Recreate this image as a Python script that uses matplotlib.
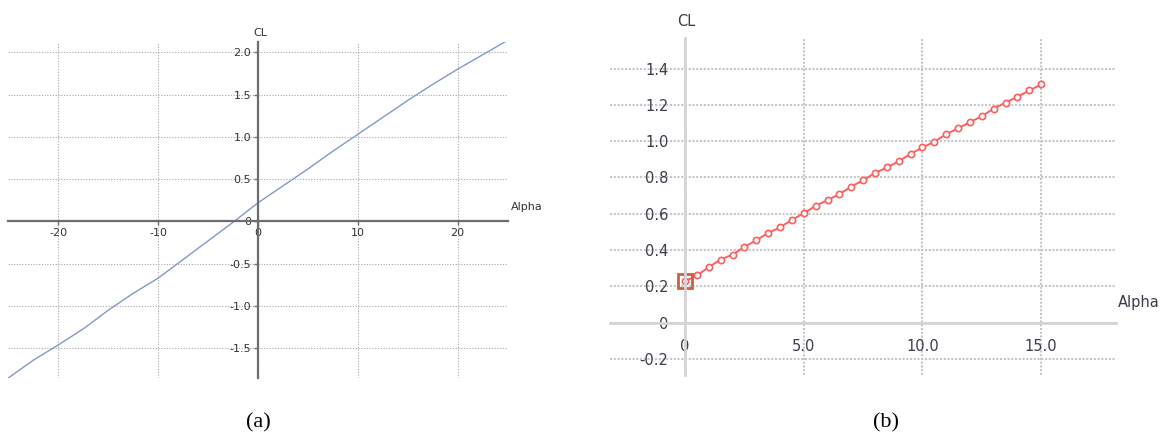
import matplotlib
matplotlib.use("Agg")
import matplotlib.pyplot as plt

# panel (a): CL vs alpha over the full range
alpha_a = [-25, -22.5, -20, -17.5, -15, -12.5, -10, -7.5, -5, -2.5, 0,
           2.5, 5, 7.5, 10, 12.5, 15, 17.5, 20, 22.5, 25]
cl_a = [-1.85, -1.64, -1.46, -1.27, -1.05, -0.85, -0.67, -0.45, -0.23, -0.01, 0.22,
        0.42, 0.62, 0.83, 1.03, 1.23, 1.43, 1.62, 1.80, 1.97, 2.14]
xticks_a = [-20, -10, 0, 10, 20]
xlabels_a = ["-20", "-10", "0", "10", "20"]
yticks_a = [-1.5, -1.0, -0.5, 0, 0.5, 1.0, 1.5, 2.0]
ylabels_a = ["-1.5", "-1.0", "-0.5", "0", "0.5", "1.0", "1.5", "2.0"]

# panel (b): CL vs alpha, 0..15 deg in 0.5 steps
alpha_b = [0, 0.5, 1.0, 1.5, 2.0, 2.5, 3.0, 3.5, 4.0, 4.5, 5.0, 5.5, 6.0, 6.5, 7.0, 7.5,
           8.0, 8.5, 9.0, 9.5, 10.0, 10.5, 11.0, 11.5, 12.0, 12.5, 13.0, 13.5, 14.0, 14.5, 15.0]
cl_b = [0.229, 0.26, 0.306, 0.348, 0.375, 0.417, 0.454, 0.494, 0.525, 0.567, 0.602,
        0.644, 0.675, 0.708, 0.749, 0.785, 0.824, 0.855, 0.889, 0.930, 0.965,
        0.997, 1.038, 1.071, 1.104, 1.138, 1.179, 1.212, 1.245, 1.279, 1.312]
xticks_b = [0, 5, 10, 15]
xlabels_b = ["0", "5.0", "10.0", "15.0"]
yticks_b = [-0.2, 0, 0.2, 0.4, 0.6, 0.8, 1.0, 1.2, 1.4]
ylabels_b = ["-0.2", "0", "0.2", "0.4", "0.6", "0.8", "1.0", "1.2", "1.4"]

W, H = 1166, 437
fig = plt.figure(figsize=(W / 100, H / 100), dpi=100)


def px_axes(x0, y0, x1, y1):
    return fig.add_axes([x0 / W, 1 - y1 / H, (x1 - x0) / W, (y1 - y0) / H])


def px_text(x, y, s, **kw):
    fig.text(x / W, 1 - y / H, s, **kw)


# ---- (a)
ax = px_axes(8.3, 41.7, 507.5, 378)
ax.plot(alpha_a, cl_a, color="#8596cf", lw=1.0)
ax.set_xlim(-25.0, 25.0)
ax.set_ylim(-1.85, 2.125)
for s in ["top", "right"]:
    ax.spines[s].set_visible(False)
for s in ["left", "bottom"]:
    ax.spines[s].set_position(("data", 0))
    ax.spines[s].set_color("#6e6e6e")
    ax.spines[s].set_linewidth(1.6)
ax.set_xticks(xticks_a)
ax.set_xticklabels(xlabels_a)
ax.set_yticks(yticks_a)
ax.set_yticklabels(ylabels_a)
ax.tick_params(axis="both", labelsize=8, colors="#6e6e6e", labelcolor="#333333",
               length=3, width=1, pad=2)
ax.tick_params(axis="x", pad=2)
ax.grid(True, color="#a8a8a8", ls=(0, (1, 1.5)), lw=0.8)
ax.set_axisbelow(True)
ax.patch.set_alpha(0)
px_text(260, 33, "CL", fontsize=8, color="#333333", ha="center", va="center")
px_text(527, 207, "Alpha", fontsize=8, color="#333333", ha="center", va="center")

# ---- (b)
bx = px_axes(610, 38, 1116, 375)
bx.plot(alpha_b, cl_b, color="#ff5e5e", lw=1.4, marker="o", ms=4.5,
        mfc="white", mec="#ff5e5e", mew=1.2)
bx.plot(alpha_b[0], cl_b[0], ls="none", marker="s", ms=10, mfc="none",
        mec="#c8643f", mew=2)
bx.set_xlim(-3.16, 18.15)
bx.set_ylim(-0.288, 1.568)
for s in ["top", "right"]:
    bx.spines[s].set_visible(False)
for s in ["left", "bottom"]:
    bx.spines[s].set_position(("data", 0))
    bx.spines[s].set_color("#d4d4d4")
    bx.spines[s].set_linewidth(2)
bx.set_xticks(xticks_b)
bx.set_xticklabels(xlabels_b)
bx.set_yticks(yticks_b)
bx.set_yticklabels(ylabels_b)
bx.tick_params(axis="both", labelsize=10.5, labelcolor="#3c3c4a", length=0)
bx.tick_params(axis="x", pad=12)
bx.tick_params(axis="y", pad=12)
bx.grid(True, color="#c6c6c6", ls=(0, (1, 0.8)), lw=1.5)
bx.set_axisbelow(True)
bx.patch.set_alpha(0)
px_text(686, 22, "CL", fontsize=10.5, color="#3c3c4a", ha="center", va="center")
px_text(1139, 302, "Alpha", fontsize=10.5, color="#3c3c4a", ha="center", va="center")

# captions
px_text(258, 423, "(a)", fontsize=16, family="Liberation Serif", ha="center", va="center")
px_text(886, 423, "(b)", fontsize=16, family="Liberation Serif", ha="center", va="center")

fig.savefig("out.png", dpi=100, facecolor="white")
